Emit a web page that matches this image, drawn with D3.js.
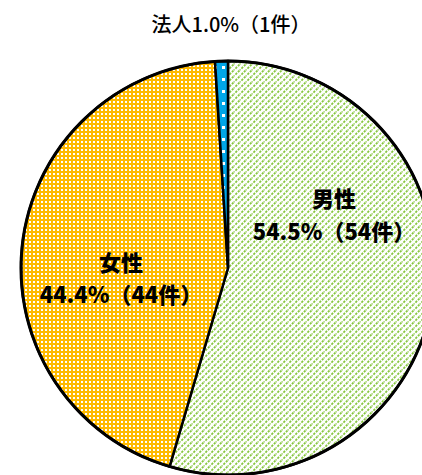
<!DOCTYPE html>
<html><head><meta charset="utf-8">
<script src="https://cdn.jsdelivr.net/npm/d3@7"></script>
<style>body{margin:0;background:#fff}svg{display:block}</style>
</head><body>
<svg id="c" width="422" height="475"></svg>
<script>
const categories = ["男性", "女性", "法人"];
const percents = [54.5, 44.4, 1.0];
const counts = [54, 44, 1];

const svg = d3.select("#c");
const cx = 228, cy = 268, R = 207;
const font = "'Noto Sans CJK JP', 'Noto Sans', sans-serif";

const defs = svg.append("defs");
// green diagonal dashed hatch
const pg = defs.append("pattern").attr("id","pm").attr("patternUnits","userSpaceOnUse")
  .attr("width",6).attr("height",6);
pg.append("rect").attr("width",6).attr("height",6).attr("fill","#fff");
pg.append("path").attr("d","M-1,7 L7,-1 M-4,4 L4,-4 M2,10 L10,2").attr("stroke","#86C63E")
  .attr("stroke-width",1.8).attr("stroke-dasharray","2.2,1.3");
// orange dotted
const po = defs.append("pattern").attr("id","pf").attr("patternUnits","userSpaceOnUse")
  .attr("width",4).attr("height",4);
po.append("rect").attr("width",4).attr("height",4).attr("fill","#FFBA00");
po.append("rect").attr("x",1).attr("y",1).attr("width",2).attr("height",2).attr("fill","#fff");
// blue with sparse white
const pb = defs.append("pattern").attr("id","pc").attr("patternUnits","userSpaceOnUse")
  .attr("width",8).attr("height",12);
pb.append("rect").attr("width",8).attr("height",12).attr("fill","#00A6E8");
pb.append("rect").attr("x",2).attr("y",2).attr("width",3).attr("height",3).attr("fill","#fff");

const fills = d3.scaleOrdinal().domain(categories).range(["url(#pm)","url(#pf)","url(#pc)"]);

const pie = d3.pie().sort(null).value(d => d.p);
const data = categories.map((c,i)=>({c, p: percents[i], n: counts[i]}));
const arcs = pie(data);
const arc = d3.arc().innerRadius(0).outerRadius(R);

const g = svg.append("g").attr("transform",`translate(${cx},${cy})`);
g.selectAll("path.s").data(arcs).join("path").attr("class","s")
  .attr("d",arc).attr("fill",d=>fills(d.data.c))
  .attr("stroke","#000").attr("stroke-width",2.5).attr("stroke-linejoin","round");
g.append("circle").attr("r",R).attr("fill","none").attr("stroke","#000").attr("stroke-width",3);

// title label for 法人
const fmt = d => `${d.c}${d.p.toFixed(1)}%（${d.n}件）`;
svg.append("text").attr("x",231).attr("y",23).attr("text-anchor","middle")
  .attr("dominant-baseline","central").attr("font-family",font).attr("font-size",20)
  .attr("font-weight",500).attr("fill","#000").text(fmt(data[2]));

const labelPos = [[334,197,230],[121,261,293]];
[0,1].forEach(i=>{
  const d = data[i], p = labelPos[i];
  const t = svg.append("g").attr("font-family",font).attr("font-weight",900)
    .attr("font-size",22).attr("fill","#000").attr("text-anchor","middle");
  t.append("text").attr("x",p[0]).attr("y",p[1]).attr("dominant-baseline","central").text(d.c);
  t.append("text").attr("x",p[0]).attr("y",p[2]).attr("dominant-baseline","central")
    .text(`${d.p.toFixed(1)}%（${d.n}件）`);
});
</script>
</body></html>
